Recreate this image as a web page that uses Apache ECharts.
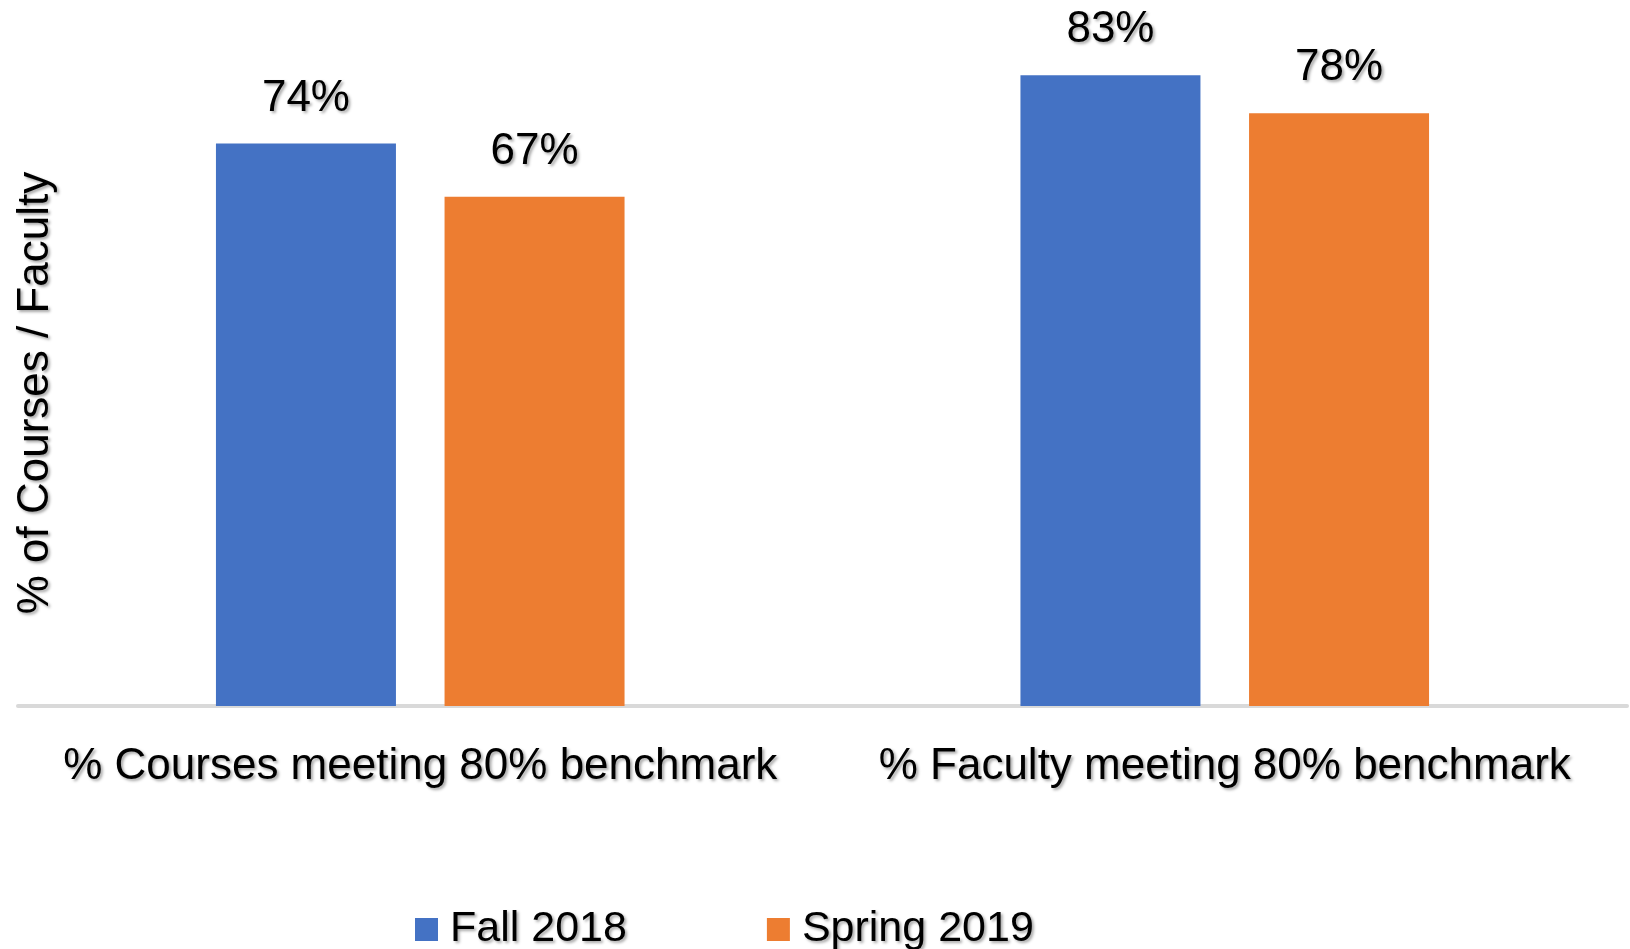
<!DOCTYPE html>
<html>
<head>
<meta charset="utf-8">
<script src="https://cdn.jsdelivr.net/npm/echarts@6/dist/echarts.min.js"></script>
<style>
html,body{margin:0;padding:0;background:#fff;}
#chart{width:1630px;height:949px;}
</style>
</head>
<body>
<div id="chart"></div>
<script>
var categories = ['% Courses meeting 80% benchmark', '% Faculty meeting 80% benchmark'];
var seriesNames = ['Fall 2018', 'Spring 2019'];
var fall2018 = [74, 83];
var spring2019 = [67, 78];
var yAxisTitle = '% of Courses / Faculty';

var FONT = '"Liberation Sans", Arial, sans-serif';
var shadow = {textShadowColor:'rgba(0,0,0,0.35)', textShadowBlur:3, textShadowOffsetX:2, textShadowOffsetY:2};

var chart = echarts.init(document.getElementById('chart'), null, {renderer:'canvas'});
function labelStyle(){
  return Object.assign({show:true, position:'top', distance:23, fontSize:44, fontFamily:FONT, color:'#000',
    formatter:function(p){return p.value + '%';}}, shadow);
}
chart.setOption({
  animation:false,
  backgroundColor:'#fff',
  grid:{left:18, right:3, top:22, bottom:243, containLabel:false},
  xAxis:{
    type:'category', data:categories,
    axisLine:{show:true, lineStyle:{color:'#d9d9d9', width:4}},
    axisTick:{show:false},
    axisLabel:Object.assign({interval:0, fontSize:44, fontFamily:FONT, color:'#000', margin:39}, shadow)
  },
  yAxis:{type:'value', min:0, max:90, show:false, splitLine:{show:false}},
  legend:{
    data:seriesNames, left:410, top:903, icon:'rect', itemWidth:23, itemHeight:23, itemGap:140,
    textStyle:Object.assign({fontSize:43, fontFamily:FONT, color:'#000', padding:[0,0,0,7]}, shadow)
  },
  graphic:[{
    type:'text', x:36, y:393, rotation:Math.PI/2,
    style:Object.assign({text:yAxisTitle, fontSize:44, fontFamily:FONT, fill:'#000', align:'center', verticalAlign:'middle'}, shadow)
  }],
  series:[
    {name:seriesNames[0], type:'bar', data:fall2018, barWidth:180, barGap:'27%', itemStyle:{color:'#4472C4'}, label:labelStyle()},
    {name:seriesNames[1], type:'bar', data:spring2019, barWidth:180, barGap:'27%', itemStyle:{color:'#ED7D31'}, label:labelStyle()}
  ]
});
</script>
</body>
</html>
